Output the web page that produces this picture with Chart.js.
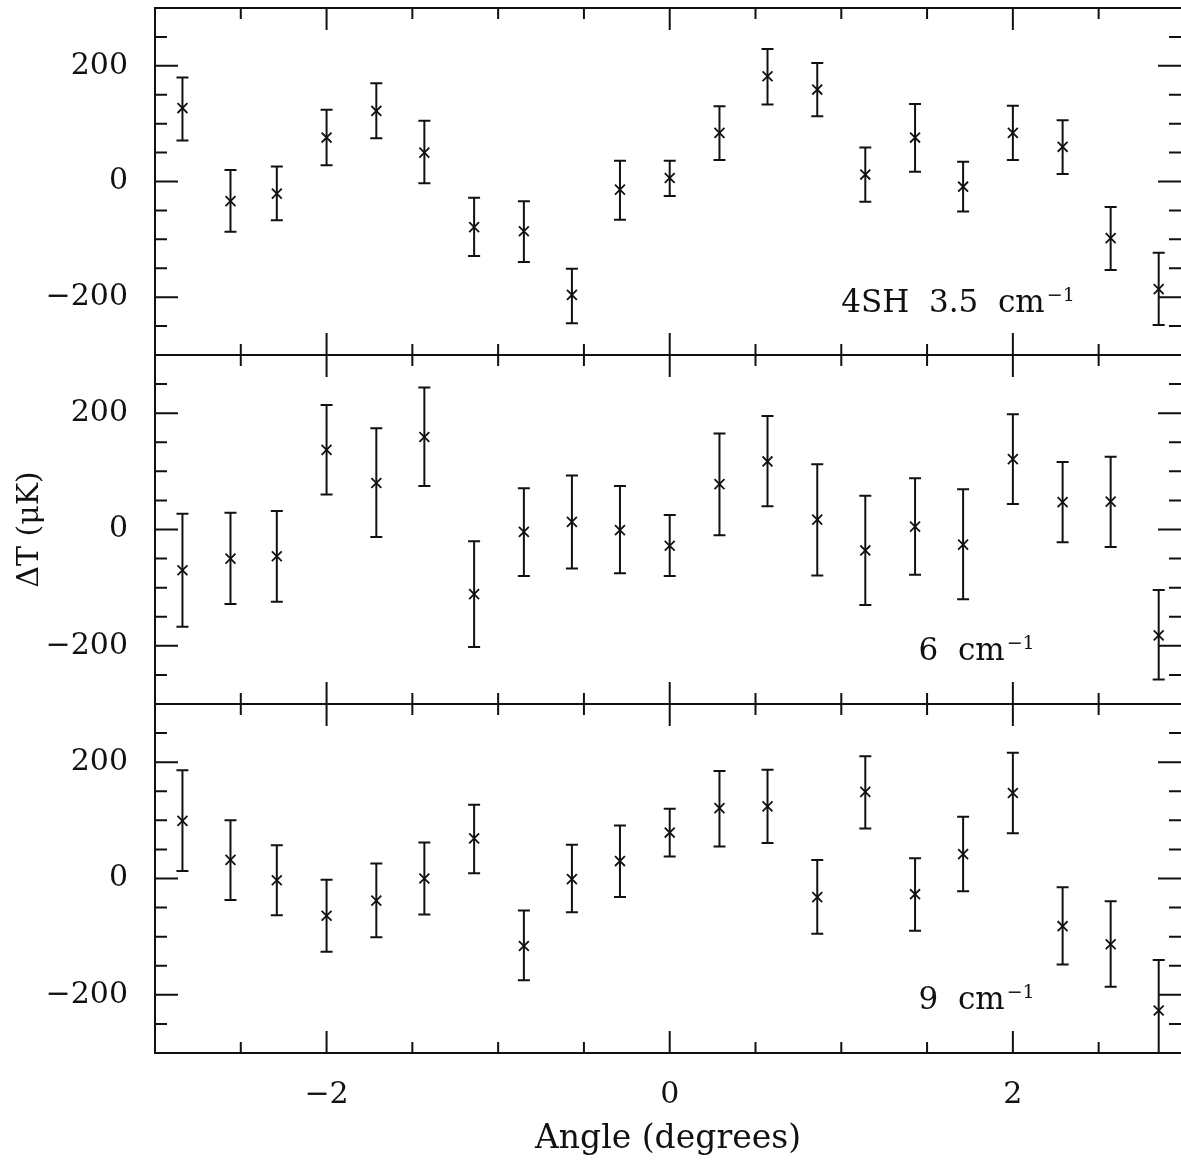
<!DOCTYPE html>
<html>
<head>
<meta charset="utf-8">
<script src="https://cdn.jsdelivr.net/npm/chart.js@4.4.1/dist/chart.umd.min.js"></script>
<style>
  body { margin: 0; background: #fff; }
  #wrap { position: relative; width: 1181px; height: 1165px; background: #fff; }
  canvas { position: absolute; left: 0; }
</style>
</head>
<body>
<div id="wrap">
  <canvas id="p1" width="1181" height="359" style="top:0"></canvas>
  <canvas id="p2" width="1181" height="357" style="top:351px"></canvas>
  <canvas id="p3" width="1181" height="465" style="top:700px"></canvas>
</div>
<script>
// angle of each scan position (degrees)
const angles = [-2.84, -2.56, -2.29, -2.0, -1.71, -1.43, -1.14, -0.85, -0.57, -0.29, 0.0,
                0.29, 0.57, 0.86, 1.14, 1.43, 1.71, 2.0, 2.29, 2.57, 2.85];

// 4SH 3.5 cm^-1
const dt35 = [127, -34, -21, 76, 122, 50, -79, -86, -196, -14, 6, 84, 182, 159, 12, 76, -9, 84, 60, -98, -186];
const dt35Hi = [180, 20, 26, 124, 170, 105, -28, -34, -151, 36, 36, 130, 229, 205, 59, 134, 34, 131, 106, -44, -123];
const dt35Lo = [71, -87, -67, 28, 75, -3, -129, -139, -245, -66, -25, 37, 133, 113, -35, 17, -52, 37, 13, -153, -248];

// 6 cm^-1
const dt6 = [-70, -50, -46, 137, 80, 159, -111, -4, 13, -1, -28, 78, 117, 17, -36, 5, -26, 121, 47, 48, -182];
const dt6Hi = [27, 29, 32, 214, 174, 244, -20, 71, 93, 75, 25, 165, 195, 112, 58, 88, 69, 198, 116, 125, -104];
const dt6Lo = [-167, -128, -124, 60, -13, 75, -202, -80, -67, -75, -80, -10, 40, -79, -130, -78, -120, 44, -22, -30, -258];

// 9 cm^-1
const dt9 = [99, 32, -3, -64, -38, 0, 69, -116, -1, 30, 79, 121, 124, -32, 149, -27, 42, 147, -82, -113, -227];
const dt9Hi = [186, 100, 57, -2, 26, 62, 127, -55, 58, 91, 120, 185, 187, 32, 210, 35, 106, 216, -15, -39, -140];
const dt9Lo = [13, -37, -63, -126, -101, -62, 9, -175, -58, -32, 38, 55, 61, -95, 86, -90, -22, 78, -148, -186, -314];

const xTickLabels = [-2, 0, 2];
const yTickLabels = [-200, 0, 200];

const FONT = "'DejaVu Serif', 'Liberation Serif', serif";
const INK = "#111";

function fmt(v) {
  return v < 0 ? "\u2212" + Math.abs(v) : String(v);
}

// frame (right side runs off the page) with ticks pointing inward
const frameTicks = {
  id: "frameTicks",
  afterDraw(chart) {
    const { ctx, chartArea: a, scales: { x, y } } = chart;
    ctx.save();
    ctx.strokeStyle = INK;
    ctx.lineWidth = 2;
    ctx.beginPath();
    ctx.moveTo(a.right, a.top); ctx.lineTo(a.left, a.top);
    ctx.lineTo(a.left, a.bottom); ctx.lineTo(a.right, a.bottom);
    for (let v = -3; v <= 3.001; v += 0.5) {
      const px = x.getPixelForValue(v);
      if (px < a.left || px > a.right) continue;
      const len = Math.abs(v % 2) < 1e-6 ? 22 : 11;
      ctx.moveTo(px, a.top); ctx.lineTo(px, a.top + len);
      ctx.moveTo(px, a.bottom); ctx.lineTo(px, a.bottom - len);
    }
    for (let v = -300; v <= 300; v += 50) {
      const py = y.getPixelForValue(v);
      const len = v % 200 === 0 ? 23 : 12;
      ctx.moveTo(a.left, py); ctx.lineTo(a.left + len, py);
      ctx.moveTo(a.right, py); ctx.lineTo(a.right - len, py);
    }
    ctx.stroke();
    ctx.restore();
  }
};

const errorBars = {
  id: "errorBars",
  afterDatasetsDraw(chart, args, opts) {
    const { ctx, chartArea: a, scales: { x, y } } = chart;
    ctx.save();
    ctx.beginPath();
    ctx.rect(a.left, a.top, a.right - a.left, a.bottom - a.top);
    ctx.clip();
    ctx.strokeStyle = INK;
    ctx.lineWidth = 2;
    ctx.beginPath();
    opts.lo.forEach((lo, i) => {
      const px = x.getPixelForValue(angles[i]);
      const p0 = y.getPixelForValue(lo);
      const p1 = y.getPixelForValue(opts.hi[i]);
      ctx.moveTo(px, p0); ctx.lineTo(px, p1);
      ctx.moveTo(px - 6, p0); ctx.lineTo(px + 6, p0);
      ctx.moveTo(px - 6, p1); ctx.lineTo(px + 6, p1);
    });
    ctx.stroke();
    ctx.restore();
  }
};

const panelLabel = {
  id: "panelLabel",
  afterDraw(chart, args, opts) {
    const { ctx, scales: { x, y } } = chart;
    const px = x.getPixelForValue(opts.at[0]);
    const py = y.getPixelForValue(opts.at[1]);
    ctx.save();
    ctx.fillStyle = INK;
    ctx.textBaseline = "alphabetic";
    ctx.font = "31px " + FONT;
    ctx.fillText(opts.text, px, py);
    const w = ctx.measureText(opts.text).width;
    ctx.font = "19px " + FONT;
    ctx.fillText("\u22121", px + w + 2, py - 11);
    ctx.restore();
  }
};

function makePanel(id, values, hi, lo, label, labelAt, opts) {
  const bottom = opts.bottom;
  new Chart(document.getElementById(id), {
    type: "scatter",
    data: {
      datasets: [{
        data: values.map((v, i) => ({ x: angles[i], y: v })),
        pointStyle: "crossRot",
        pointRadius: 7,
        pointBorderWidth: 1.8,
        borderColor: INK,
        backgroundColor: INK,
        showLine: false,
      }],
    },
    options: {
      responsive: false,
      animation: false,
      events: [],
      layout: {
        autoPadding: false,
        padding: { top: opts.top, bottom: bottom ? 0 : 4, left: 0, right: 0 },
      },
      plugins: {
        legend: { display: false },
        tooltip: { enabled: false },
        errorBars: { hi, lo },
        panelLabel: { text: label, at: labelAt },
      },
      scales: {
        x: {
          type: "linear",
          min: -3,
          max: 2.98,
          display: bottom,
          grid: { display: false },
          border: { display: false },
          afterBuildTicks: (s) => { s.ticks = xTickLabels.map((v) => ({ value: v })); },
          afterFit: (s) => {
            s.height = bottom ? 112 : 0;
            s.paddingLeft = 0; s.paddingRight = 0;
          },
          ticks: { color: INK, padding: 16, font: { family: FONT, size: 30 }, callback: (v) => fmt(v) },
          title: {
            display: bottom,
            text: "Angle (degrees)",
            color: INK,
            font: { family: FONT, size: 33 },
            padding: { top: 0, bottom: 6 },
          },
        },
        y: {
          type: "linear",
          min: -300,
          max: 300,
          grid: { display: false },
          border: { display: false },
          afterBuildTicks: (s) => { s.ticks = yTickLabels.map((v) => ({ value: v })); },
          afterFit: (s) => {
            s.width = 155;
            s.paddingTop = 0; s.paddingBottom = 0;
          },
          ticks: { color: INK, padding: 19, font: { family: FONT, size: 30 }, callback: (v) => fmt(v) },
          title: {
            display: !!opts.yTitle,
            text: "\u0394T (\u03bcK)",
            color: INK,
            font: { family: FONT, size: 30 },
            padding: { top: 12, bottom: 0 },
          },
        },
      },
    },
    plugins: [errorBars, frameTicks, panelLabel],
  });
}

makePanel("p1", dt35, dt35Hi, dt35Lo, "4SH  3.5  cm", [1.0, -225], { top: 8, bottom: false });
makePanel("p2", dt6, dt6Hi, dt6Lo, "6  cm", [1.45, -225], { top: 4, bottom: false, yTitle: true });
makePanel("p3", dt9, dt9Hi, dt9Lo, "9  cm", [1.45, -225], { top: 4, bottom: true });
</script>
</body>
</html>
